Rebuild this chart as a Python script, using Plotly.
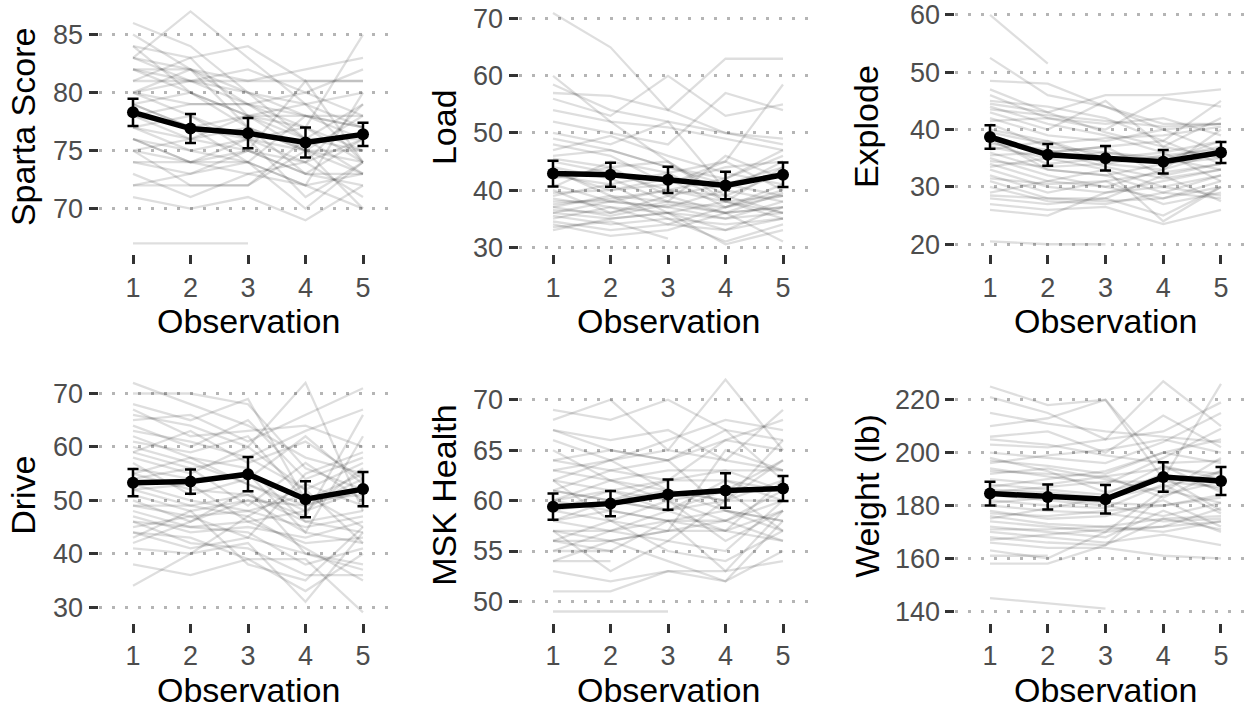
import plotly.graph_objects as go

observations = [1, 2, 3, 4, 5]

# ---------------- data ----------------
sparta_subjects = [
    [86, 84, 80, 78, 77], [83, 87, 83, 79, 74], [85, 82, 79, 76, 75], [84, 83, 84, 81, 81],
    [83, 82, 81, 82, 83], [82, 82, 80, 76, 73], [82, 80, 78, 79, 80], [81, 81, 81, 81, 81],
    [80, 79, 79, 78, 78], [80, 78, 76, 74, 76], [79, 80, 78, 75, 74], [79, 77, 76, 77, 85],
    [78, 76, 77, 73, 72], [77, 78, 75, 74, 79], [76, 75, 76, 71, 74], [76, 74, 73, 72, 73],
    [75, 72, 72, 76, 76], [74, 74, 74, 70, 74], [72, 72, 72, 75, 75], [71, 70, 71, 69, 72],
    [78, 79, 79, 80, 82], [80, 82, 77, 75, 70], [77, 76, 75, 73, 73], [81, 83, 78, 78, 76],
    [67, 67, 67, None, None], [79, 77, 74, 72, 80], [75, 76, 78, 77, 74], [82, 81, 82, 80, 78],
    [73, 71, 73, 74, 71], [76, 74, 75, 81, 74],
    [84, 80, 77, 75, 73], [78, 77, 78, 76, 79], [77, 75, 74, 78, 77], [74, 73, 75, 73, 76],
    [80, 81, 80, 79, 77], [72, 73, 74, 72, 70], [83, 81, 79, 77, 75], [75, 74, 76, 75, 78],
]
sparta_mean = [78.3, 76.9, 76.5, 75.7, 76.4]
sparta_err = [1.17, 1.25, 1.3, 1.3, 1.0]
sparta_ticks = [70, 75, 80, 85]

load_subjects = [
    [71, 65, 54, 50, 48], [60, 52, 45, 38, 36], [58.5, 54, 52, 50, 49], [57, 56.5, 54, 63, 63],
    [56, 53, 60, 53, 55], [52, 50, 48, 57, 54], [50, 48, 52, 40, 45], [48, 46, 41, 45, 58.5],
    [46, 47, 44, 42, 47], [45, 43, 40, 38, 44], [44, 42, 38, 37, 41], [43, 40, 42, 37, 39],
    [42, 44, 39, 36, 37], [41, 38, 37, 35, 36], [40, 36, 38, 46, 42], [39, 41, 36, 33, 37],
    [38, 38, 37, 40, 38], [37, 39, 35, 34, 35], [36, 35, 36, 38, 39], [35.5, 34, 35, 31, 34],
    [35, 37, 34, 37, 40], [34, 32, 33, 36, 31], [33.5, 34.5, 31.5, None, None], [36.5, 36, 39, 41, 44],
    [39.5, 40, 41, 44, 45], [47, 49.5, 46, 43, 41], [37.5, 38.5, 40, 39, 43], [33, 35, 36, 30.5, 33],
    [40.5, 45, 43, 38, 35], [43.5, 39, 38, 36, 39.5],
    [54, 52, 51, 49, 47], [38.5, 37, 36, 35, 38], [36, 38, 40, 42, 46], [45.5, 44, 45, 39, 36],
    [34.5, 33, 34, 33, 35], [42.5, 41, 43, 45, 40], [37, 35.5, 37.5, 36, 37], [49, 47, 44, 41, 39],
]
load_mean = [42.9, 42.7, 41.8, 40.8, 42.7]
load_err = [2.25, 2.1, 2.3, 2.4, 2.15]
load_ticks = [30, 40, 50, 60, 70]

explode_subjects = [
    [60, 51.5, None, None, None], [52.5, 46, 44, 40, 41], [48.5, 48, 44, 41, 41], [47, 43, 46, 46, 47],
    [46, 42, 40, 45.5, 44], [45, 44, 42, 38, 45], [44, 41, 39, 36, 38], [43, 40, 45, 37, 42],
    [42, 39, 38, 40, 36], [41, 37, 36, 35, 33], [40, 38, 34, 33, 40], [39, 36, 37, 32, 34],
    [38, 34, 35, 36, 31], [37, 35, 33, 30, 32], [36, 33, 32, 34, 35], [35, 32, 30, 28, 31],
    [34, 31, 33, 24, 30], [33, 30, 29, 31, 33], [32, 29, 31, 27, 29], [31, 28, 28, 25, 30],
    [30, 27.5, 27, 29, 28], [28, 27, 28, 32, 27.5], [27, 26, 26.5, 23.5, 26], [26, 25, 29, 30, 28.5],
    [20.5, 20, 20, None, None], [41.5, 42, 41, 42, 39], [36.5, 38, 35, 35, 37], [29, 31, 30, 33, 36],
    [35.5, 36, 37, 38, 34], [38.5, 33, 32, 29, 32],
    [43.5, 42.5, 41.5, 40.5, 41], [39.5, 37.5, 38.5, 39, 40.5], [34.5, 33.5, 34, 35.5, 36.5],
    [31.5, 30.5, 31, 32.5, 34], [28.5, 28, 27.5, 28, 30], [44.5, 43, 39.5, 37, 35],
    [37.5, 36.5, 33.5, 31.5, 33], [33.5, 35, 36, 34.5, 38],
]
explode_mean = [38.7, 35.6, 35.0, 34.4, 36.0]
explode_err = [2.05, 1.9, 2.15, 2.05, 1.85]
explode_ticks = [20, 30, 40, 50, 60]

drive_subjects = [
    [72, 68, 64, 58, 55], [70, 70, 68, 56, 52], [68, 65, 69, 50, 55], [66, 64, 60, 72, 48],
    [65, 66, 61, 66, 71], [64, 60, 65, 54, 58], [63, 61, 58, 63, 67], [62, 58, 56, 46, 44],
    [60, 57, 53, 48, 56], [58, 55, 60, 52, 42], [56, 54, 55, 44, 62], [55, 52, 51, 47, 66],
    [54, 56, 49, 57, 50], [53, 50, 48, 45, 47], [52, 53, 46, 42, 43], [51, 48, 50, 49, 52],
    [50, 46, 52, 40, 37], [49, 49, 47, 53, 49], [48, 45, 44, 38, 41], [47, 44, 45, 43, 46],
    [46, 42, 41, 36, 36], [45, 47, 43, 55, 59], [44, 43, 39, 33, 40], [41, 40, 42, 31, 44],
    [38, 36, 39, 39, 29], [34, 40, 47, 41, 35], [59, 63, 57, 61, 54], [61, 59, 62, 50, 51],
    [57, 51, 54, 62, 53], [43, 48, 38, 35, 45],
    [67, 62, 63, 64, 60], [59, 56, 58, 52, 57], [55, 58, 53, 49, 54], [52, 49, 51, 46, 48],
    [49, 47, 48, 51, 45], [46, 45, 46, 48, 52], [44, 41, 43, 40, 38], [42, 46, 50, 44, 42],
]
drive_mean = [53.3, 53.5, 54.9, 50.2, 52.1]
drive_err = [2.55, 2.25, 3.2, 3.35, 3.2]
drive_ticks = [30, 40, 50, 60, 70]

msk_subjects = [
    [69, 68, 70, 67, 66], [68, 70, 65, 72, 65], [67, 66, 67, 64, 69], [66, 64, 66, 68, 67],
    [64, 65, 64, 67, 62], [64, 63, 62, 66, 68], [63, 62, 63, 63, 63], [62, 64, 61, 60, 64],
    [62, 61, 60, 58, 61], [61, 60, 59, 62, 60], [60, 62, 61, 59, 58], [60, 59, 58, 57, 62],
    [59, 58, 60, 56, 59], [58, 60, 59, 61, 57], [58, 57, 56, 55, 60], [57, 56, 57, 58, 56],
    [56, 58, 55, 54, 57], [56, 55, 58, 53, 59], [55, 55, None, None, None], [54, 54, None, None, None],
    [53, 52, 53, 52, 55], [51, 51, 53, 53, 54], [49, 49, 49, None, None], [62, 58, 57, 65, 63],
    [57, 53, 56, 60, 66], [61, 63, 64, 59, 57], [59, 61, 62, 63, 61], [55, 57, 59, 57, 56],
    [65, 62, 60, 61, 64], [54, 56, 54, 52, 58],
    [67, 65, 64, 66, 65], [63, 64, 65, 64, 63], [61, 60, 62, 62, 61], [60, 61, 59, 60, 60],
    [58, 59, 58, 58, 60], [57, 57, 58, 59, 58], [56, 56, 57, 57, 59], [59, 60, 61, 60, 62],
]
msk_mean = [59.4, 59.7, 60.6, 61.0, 61.2]
msk_err = [1.3, 1.25, 1.5, 1.7, 1.25]
msk_ticks = [50, 55, 60, 65, 70]

weight_subjects = [
    [225, 218, 220, 195, 185], [221, 215, 205, 227, 210], [210, 213, 220, 190, 226], [206, 208, 200, 214, 202],
    [203, 202, 205, 208, 219], [200, 198, 196, 204, 215], [197, 195, 192, 200, 205], [194, 191, 188, 198, 209],
    [192, 194, 190, 185, 198], [190, 188, 191, 183, 193], [188, 186, 184, 195, 190], [186, 185, 183, 192, 186],
    [184, 182, 180, 176, 181], [182, 180, 179, 188, 177], [180, 178, 177, 174, 175], [178, 175, 176, 182, 172],
    [176, 173, 172, 170, 174], [174, 172, 170, 186, 181], [172, 170, 168, 178, 170], [170, 168, 166, 169, 165],
    [168, 166, 165, 184, 189], [166, 164, 164, 161, 160], [163, 160, 170, 172, 179], [161, 161, None, None, None],
    [158, 158, 165, 175, 171], [145, 143, 141, None, None], [196, 199, 201, 205, 200], [187, 190, 193, 200, 196],
    [175, 179, 183, 187, 193], [198, 193, 185, 191, 178],
    [215, 211, 208, 206, 204], [205, 203, 199, 196, 197], [193, 192, 191, 194, 192], [185, 187, 189, 189, 187],
    [181, 183, 181, 180, 184], [177, 176, 178, 180, 183], [171, 171, 172, 175, 176], [167, 169, 171, 172, 174],
]
weight_mean = [184.5, 183.2, 182.4, 190.8, 189.3]
weight_err = [4.5, 4.7, 5.4, 5.6, 5.3]
weight_ticks = [140, 160, 180, 200, 220]

panel_titles = ["Sparta Score", "Load", "Explode", "Drive", "MSK Health", "Weight (lb)"]
x_title = "Observation"

# ---------------- layout geometry (pixels) ----------------
W, H = 1252, 711
FONT = "Liberation Sans, Arial, Helvetica, sans-serif"

panels = [
    (sparta_subjects, sparta_mean, sparta_err, sparta_ticks),
    (load_subjects, load_mean, load_err, load_ticks),
    (explode_subjects, explode_mean, explode_err, explode_ticks),
    (drive_subjects, drive_mean, drive_err, drive_ticks),
    (msk_subjects, msk_mean, msk_err, msk_ticks),
    (weight_subjects, weight_mean, weight_err, weight_ticks),
]
col_dom = [(98.5, 397.5), (518.5, 817.5), (955.35, 1252)]
col_rng = [(0.4, 5.6), (0.4, 5.6), (0.4, 5.537)]
row_dom = [(0, 257), (373, 630)]
y_rng = [(66.08, 87.98), (28.79, 73.29), (18.28, 62.59),
         (27.04, 74.63), (47.87, 73.07), (135.6, 231.7)]
ytitle_x = [23, 444, 866, 23, 444, 867]
xtitle_bottom = [345, 718]

fig = go.Figure()
annotations = []
for i, (subjects, mean, err, ticks) in enumerate(panels):
    r, c = divmod(i, 3)
    suffix = "" if i == 0 else str(i + 1)
    xa, ya = "x" + suffix, "y" + suffix
    for s in subjects:
        fig.add_trace(go.Scatter(
            x=observations, y=s, mode="lines", xaxis=xa, yaxis=ya,
            line=dict(color="rgba(0,0,0,0.13)", width=2.3),
            connectgaps=False, showlegend=False, hoverinfo="skip"))
    fig.add_trace(go.Scatter(
        x=observations, y=mean, mode="lines+markers", xaxis=xa, yaxis=ya,
        line=dict(color="black", width=5.5),
        marker=dict(color="black", size=12),
        error_y=dict(type="data", array=err, visible=True, color="black",
                     thickness=2.5, width=5.5),
        showlegend=False))

    x0, x1 = col_dom[c]
    py0, py1 = row_dom[r]
    axis_common = dict(ticks="outside", ticklen=9, tickwidth=2.5, tickcolor="#333333",
                       showline=False, zeroline=False,
                       tickfont=dict(family=FONT, size=27, color="#4D4D4D"))
    fig.layout["xaxis" + suffix] = dict(
        domain=[x0 / W, x1 / W], range=list(col_rng[c]), anchor=ya,
        tickvals=observations, ticktext=[str(v) for v in observations],
        showgrid=False, **axis_common)
    fig.layout["yaxis" + suffix] = dict(
        domain=[1 - py1 / H, 1 - py0 / H], range=list(y_rng[i]), anchor=xa,
        tickvals=ticks, showgrid=True, gridcolor="#B5B5B5", gridwidth=2.5,
        griddash="3px,10px", **axis_common)

    xc = (133 + 363) / 2 + [0, 420, 857.5][c]
    annotations.append(dict(
        text=x_title, x=xc / W, y=1 - xtitle_bottom[r] / H, xref="paper", yref="paper",
        xanchor="center", yanchor="bottom", showarrow=False, borderpad=0,
        font=dict(family=FONT, size=34, color="black")))
    annotations.append(dict(
        text=panel_titles[i], x=ytitle_x[i] / W, y=1 - ((py0 + py1) / 2) / H,
        xref="paper", yref="paper", xanchor="center", yanchor="middle",
        textangle=-90, showarrow=False,
        font=dict(family=FONT, size=34, color="black")))

fig.update_layout(
    width=W, height=H, margin=dict(l=0, r=0, t=0, b=0),
    paper_bgcolor="white", plot_bgcolor="white",
    annotations=annotations, font=dict(family=FONT))

fig.write_html("out.html")
